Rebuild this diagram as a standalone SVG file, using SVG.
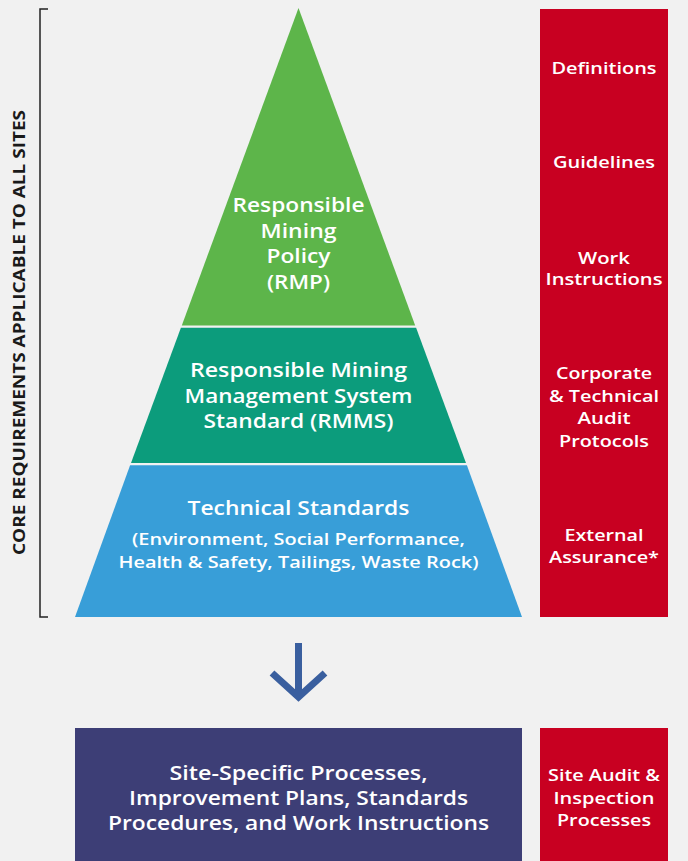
<svg xmlns="http://www.w3.org/2000/svg" width="688" height="861" viewBox="0 0 688 861">
<style>
text{font-family:"Open Sans","Liberation Sans",sans-serif;font-weight:600;fill:#ffffff;text-anchor:middle}
.p{font-size:19px}
.r{font-size:17px}
.n{font-size:19px}
.s{font-size:16.5px}
.v{font-size:15.5px;font-weight:700;fill:#1a1a1a}
</style>
<rect width="688" height="861" fill="#f1f1f1"/>
<g id="bracket">
<path d="M48,9 H40 V617 H48" fill="none" stroke="#222" stroke-width="1.5"/>
<text class="v" transform="translate(25,332.5) rotate(-90)" textLength="445" lengthAdjust="spacingAndGlyphs">CORE REQUIREMENTS APPLICABLE TO ALL SITES</text>
</g>
<g id="rmp">
<polygon points="298.5,8 415.2,325.5 181.8,325.5" fill="#5db54a"/>
<text class="p" x="298.5" y="212" textLength="132" lengthAdjust="spacingAndGlyphs">Responsible</text>
<text class="p" x="298.5" y="238" textLength="76" lengthAdjust="spacingAndGlyphs">Mining</text>
<text class="p" x="298.5" y="263" textLength="64" lengthAdjust="spacingAndGlyphs">Policy</text>
<text class="p" x="298.5" y="289" textLength="63" lengthAdjust="spacingAndGlyphs">(RMP)</text>
</g>
<g id="rmms">
<polygon points="180.9,327.8 416.1,327.8 466,463 131,463" fill="#0c9c7c"/>
<text class="p" x="298.5" y="377" textLength="217" lengthAdjust="spacingAndGlyphs">Responsible Mining</text>
<text class="p" x="298.5" y="403" textLength="228" lengthAdjust="spacingAndGlyphs">Management System</text>
<text class="p" x="298.5" y="428" textLength="190" lengthAdjust="spacingAndGlyphs">Standard (RMMS)</text>
</g>
<g id="tech">
<polygon points="130.1,465.2 466.9,465.2 522,617 75,617" fill="#389ed8"/>
<text class="p" x="298.5" y="515" textLength="222" lengthAdjust="spacingAndGlyphs">Technical Standards</text>
<text class="s" x="298.5" y="545" textLength="333" lengthAdjust="spacingAndGlyphs">(Environment, Social Performance,</text>
<text class="s" x="298.5" y="568" textLength="360" lengthAdjust="spacingAndGlyphs">Health &amp; Safety, Tailings, Waste Rock)</text>
</g>
<g id="side">
<rect x="540" y="9" width="128" height="608" fill="#c80021"/>
<text class="r" x="604" y="74" textLength="105" lengthAdjust="spacingAndGlyphs">Definitions</text>
<text class="r" x="604" y="168" textLength="102" lengthAdjust="spacingAndGlyphs">Guidelines</text>
<text class="r" x="604" y="264" textLength="52" lengthAdjust="spacingAndGlyphs">Work</text>
<text class="r" x="604" y="285" textLength="117" lengthAdjust="spacingAndGlyphs">Instructions</text>
<text class="r" x="604" y="379" textLength="96" lengthAdjust="spacingAndGlyphs">Corporate</text>
<text class="r" x="604" y="402" textLength="110" lengthAdjust="spacingAndGlyphs">&amp; Technical</text>
<text class="r" x="604" y="424" textLength="53" lengthAdjust="spacingAndGlyphs">Audit</text>
<text class="r" x="604" y="447" textLength="90" lengthAdjust="spacingAndGlyphs">Protocols</text>
<text class="r" x="604" y="541" textLength="79" lengthAdjust="spacingAndGlyphs">External</text>
<text class="r" x="604" y="563" textLength="110" lengthAdjust="spacingAndGlyphs">Assurance*</text>
</g>
<g id="connectors">
<path d="M298.5,643 V696 M272,673 L298.5,697 L325,673" fill="none" stroke="#3a5f9f" stroke-width="7"/>
</g>
<g id="site">
<rect x="75" y="728" width="447" height="133" fill="#3d3e76"/>
<text class="n" x="298.5" y="780" textLength="258" lengthAdjust="spacingAndGlyphs">Site-Specific Processes,</text>
<text class="n" x="298.5" y="805" textLength="339" lengthAdjust="spacingAndGlyphs">Improvement Plans, Standards</text>
<text class="n" x="298.5" y="830" textLength="381" lengthAdjust="spacingAndGlyphs">Procedures, and Work Instructions</text>
</g>
<g id="siteaudit">
<rect x="540" y="728" width="128" height="133" fill="#c80021"/>
<text class="r" x="604" y="781" textLength="112" lengthAdjust="spacingAndGlyphs">Site Audit &amp;</text>
<text class="r" x="604" y="804" textLength="101" lengthAdjust="spacingAndGlyphs">Inspection</text>
<text class="r" x="604" y="826" textLength="94" lengthAdjust="spacingAndGlyphs">Processes</text>
</g>
</svg>
